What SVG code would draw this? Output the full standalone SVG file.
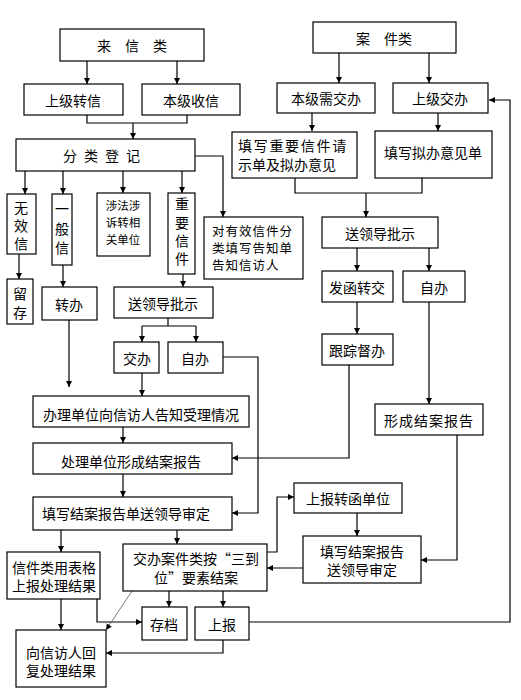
<svg xmlns="http://www.w3.org/2000/svg" width="521" height="700" viewBox="0 0 521 700">
<defs>
<marker id="ah" markerWidth="7" markerHeight="7" refX="6" refY="3.5" orient="auto" markerUnits="userSpaceOnUse">
<path d="M0,0.5 L6,3.5 L0,6.5 Z" fill="#000"/>
</marker>
<style>
rect{fill:#fff;stroke:#000;stroke-width:1.2}
text{font-family:"Noto Sans CJK SC","Noto Sans",sans-serif;font-size:14px;fill:#000;text-anchor:middle;dominant-baseline:central}
.s{font-size:11.5px}
.m{font-size:12.5px}
.v{font-size:14px}
.l{text-anchor:start}
#conn path{fill:none;stroke:#000;stroke-width:1.2}
#conn .a{marker-end:url(#ah)}
#conn .g{stroke:#555;stroke-width:0.8}
</style>
</defs>
<rect x="0" y="0" width="521" height="700" style="fill:#fff;stroke:none"/>
<g id="conn">
<path class="a" d="M87,61V84"/>
<path class="a" d="M177,61V84"/>
<path d="M87,115V123H187V115"/>
<path class="a" d="M133,123V139"/>
<path class="a" d="M339,53V83"/>
<path class="a" d="M429,53V83"/>
<path class="a" d="M312,113V131"/>
<path class="a" d="M438,113V131"/>
<path d="M295,178V193H422V178"/>
<path class="a" d="M366,193V217"/>
<path class="a" d="M357,248V271"/>
<path class="a" d="M429,248V271"/>
<path class="a" d="M357,302V334"/>
<path class="a" d="M429,302V404"/>
<path class="a" d="M349,365V458H232"/>
<path class="a" d="M223,357H258V513H232"/>
<path class="a" d="M457,435V560H421"/>
<path class="a" d="M357,513V536"/>
<path class="a" d="M303,568H267"/>
<path class="a" d="M267,552H277V497H294"/>
<path class="a" d="M249,622H510V100H489"/>
<path class="a" d="M25,171V194"/>
<path class="a" d="M63,171V194"/>
<path class="a" d="M123,171V193"/>
<path class="a" d="M182,171V193"/>
<path class="a" d="M195,156H223V217"/>
<path class="a" d="M19,254V279"/>
<path class="a" d="M63,265V287"/>
<path class="a" d="M183,274V287"/>
<path d="M168,318V326M142,326H196"/>
<path class="a" d="M142,326V342"/>
<path class="a" d="M196,326V342"/>
<path class="a" d="M69,320V387"/>
<path class="a" d="M142,373V396"/>
<path class="a" d="M123,427V443"/>
<path class="a" d="M123,474V497"/>
<path class="a" d="M61,530V552"/>
<path class="a" d="M177,530V544"/>
<path class="a" d="M61,599V630"/>
<path class="a" d="M97,599V622H142"/>
<path class="a g" d="M132,591L106,630"/>
<path class="a" d="M169,591V607"/>
<path class="a" d="M223,591V607"/>
<path class="a" d="M223,640V653H106"/>
</g>
<g id="n1"><rect x="60" y="29" width="144" height="32"/><text x="132" y="45">来　信　类</text></g>
<g id="n2"><rect x="24" y="84" width="99" height="31"/><text x="73" y="100">上级转信</text></g>
<g id="n3"><rect x="142" y="84" width="98" height="31"/><text x="191" y="100">本级收信</text></g>
<g id="n4"><rect x="16" y="139" width="179" height="32"/><text x="105" y="155" style="letter-spacing:7px">分类登记</text></g>
<g id="n5"><rect x="313" y="22" width="143" height="31"/><text x="384" y="38">案　件类</text></g>
<g id="n6"><rect x="277" y="83" width="98" height="30"/><text x="326" y="98">本级需交办</text></g>
<g id="n7"><rect x="393" y="83" width="95" height="30"/><text x="440" y="98">上级交办</text></g>
<g id="n8"><rect x="232" y="132" width="125" height="46"/><text class="l"><tspan x="238" y="145" style="letter-spacing:1.7px">填写重要信件请</tspan><tspan x="238" y="164">示单及拟办意见</tspan></text></g>
<g id="n9"><rect x="375" y="131" width="117" height="47"/><text x="433" y="152">填写拟办意见单</text></g>
<g id="n10"><rect x="322" y="217" width="116" height="31"/><text x="380" y="233">送领导批示</text></g>
<g id="n11"><rect x="322" y="271" width="71" height="31"/><text x="357" y="287">发函转交</text></g>
<g id="n12"><rect x="403" y="271" width="62" height="31"/><text x="434" y="287">自办</text></g>
<g id="n13"><rect x="322" y="334" width="71" height="31"/><text x="357" y="350">跟踪督办</text></g>
<g id="n14"><rect x="375" y="404" width="108" height="31"/><text x="429" y="420" style="letter-spacing:1px">形成结案报告</text></g>
<g id="n15"><rect x="7" y="194" width="29" height="60"/><text class="v"><tspan x="21" y="207">无</tspan><tspan x="21" y="225">效</tspan><tspan x="21" y="243">信</tspan></text></g>
<g id="n16"><rect x="52" y="194" width="20" height="71"/><text class="v"><tspan x="62" y="208">一</tspan><tspan x="62" y="228">般</tspan><tspan x="62" y="247">信</tspan></text></g>
<g id="n17"><rect x="97" y="193" width="53" height="63"/><text class="s"><tspan x="123" y="205">涉法涉</tspan><tspan x="123" y="222">诉转相</tspan><tspan x="123" y="239">关单位</tspan></text></g>
<g id="n18"><rect x="168" y="193" width="27" height="81"/><text class="v"><tspan x="182" y="203">重</tspan><tspan x="182" y="222">要</tspan><tspan x="182" y="240">信</tspan><tspan x="182" y="258">件</tspan></text></g>
<g id="n19"><rect x="204" y="217" width="99" height="62"/><text class="m l" style="letter-spacing:1px"><tspan x="212" y="230">对有效信件分</tspan><tspan x="212" y="247">类填写告知单</tspan><tspan x="212" y="264">告知信访人</tspan></text></g>
<g id="n20"><rect x="7" y="279" width="26" height="45"/><text class="v"><tspan x="20" y="293">留</tspan><tspan x="20" y="312">存</tspan></text></g>
<g id="n21"><rect x="42" y="287" width="55" height="33"/><text x="69" y="304">转办</text></g>
<g id="n22"><rect x="114" y="287" width="99" height="31"/><text x="163" y="303">送领导批示</text></g>
<g id="n23"><rect x="114" y="342" width="45" height="31"/><text x="137" y="358">交办</text></g>
<g id="n24"><rect x="168" y="342" width="55" height="31"/><text x="195" y="358">自办</text></g>
<g id="n25"><rect x="33" y="396" width="216" height="31"/><text x="141" y="414">办理单位向信访人告知受理情况</text></g>
<g id="n26"><rect x="33" y="443" width="199" height="31"/><text x="131" y="461">处理单位形成结案报告</text></g>
<g id="n27"><rect x="33" y="497" width="199" height="33"/><text x="126" y="513">填写结案报告单送领导审定</text></g>
<g id="n28"><rect x="294" y="483" width="108" height="30"/><text x="348" y="498">上报转函单位</text></g>
<g id="n29"><rect x="303" y="536" width="118" height="47"/><text><tspan x="362" y="551">填写结案报告</tspan><tspan x="362" y="569">送领导审定</tspan></text></g>
<g id="n30"><rect x="7" y="552" width="93" height="47"/><text><tspan x="54" y="567">信件类用表格</tspan><tspan x="54" y="585">上报处理结果</tspan></text></g>
<g id="n31"><rect x="123" y="544" width="144" height="47"/><text><tspan x="196" y="558">交办案件类按“三到</tspan><tspan x="196" y="577">位”要素结案</tspan></text></g>
<g id="n32"><rect x="142" y="607" width="45" height="33"/><text x="164" y="624">存档</text></g>
<g id="n33"><rect x="195" y="607" width="54" height="33"/><text x="222" y="624">上报</text></g>
<g id="n34"><rect x="16" y="630" width="90" height="57"/><text><tspan x="61" y="652">向信访人回</tspan><tspan x="61" y="670">复处理结果</tspan></text></g>
</svg>
